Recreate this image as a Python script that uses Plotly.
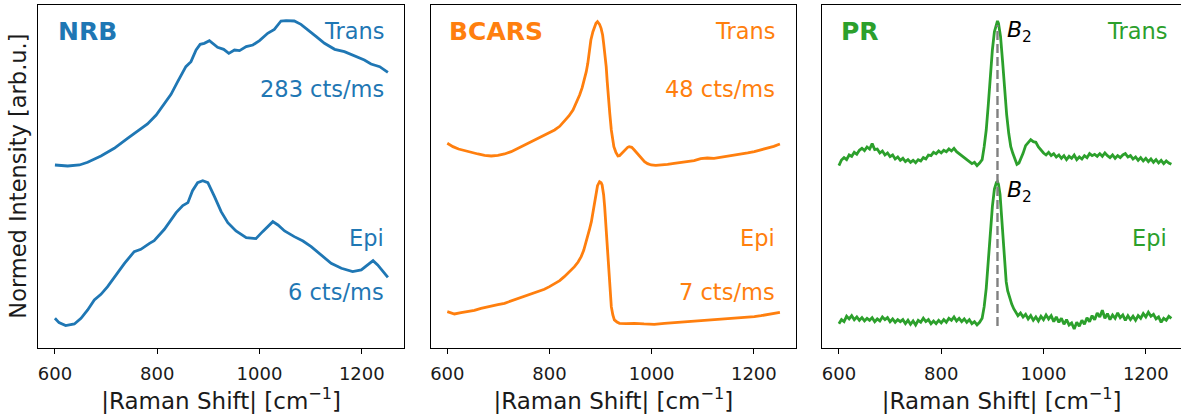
import plotly.graph_objects as go

# ---------------- data ----------------
nrb_trans_x = [600, 625, 648, 664, 690, 716, 742, 768, 781, 798, 814, 827, 840, 856, 866, 876, 884, 892, 902, 909,
               918, 930, 940, 951, 961, 974, 987, 1000, 1016, 1029, 1042, 1052, 1068, 1081, 1094, 1111, 1127, 1147,
               1166, 1186, 1205, 1218, 1235, 1251]
nrb_trans_y = [0.550, 0.547, 0.550, 0.558, 0.577, 0.600, 0.630, 0.657, 0.673, 0.700, 0.735, 0.762, 0.800, 0.845,
               0.860, 0.895, 0.912, 0.915, 0.923, 0.915, 0.903, 0.897, 0.885, 0.895, 0.893, 0.905, 0.910, 0.923,
               0.945, 0.957, 0.982, 0.983, 0.982, 0.972, 0.955, 0.935, 0.915, 0.897, 0.890, 0.877, 0.865, 0.853,
               0.845, 0.828]

nrb_epi_x = [600, 608, 621, 638, 651, 664, 677, 690, 703, 719, 736, 755, 768, 785, 794, 814, 827, 837, 850, 860,
             869, 879, 889, 899, 912, 925, 938, 954, 974, 993, 1006, 1016, 1026, 1036, 1049, 1068, 1085, 1101,
             1121, 1140, 1160, 1182, 1199, 1212, 1222, 1231, 1241, 1251]
nrb_epi_y = [0.090, 0.077, 0.068, 0.073, 0.090, 0.115, 0.145, 0.162, 0.185, 0.220, 0.255, 0.290, 0.297, 0.315,
             0.323, 0.357, 0.385, 0.407, 0.428, 0.437, 0.473, 0.497, 0.503, 0.497, 0.455, 0.410, 0.377, 0.352,
             0.332, 0.329, 0.350, 0.365, 0.380, 0.370, 0.352, 0.335, 0.322, 0.305, 0.280, 0.255, 0.240, 0.230,
             0.235, 0.250, 0.263, 0.250, 0.230, 0.213]

bcars_trans_x = [600, 611, 622, 634, 647, 660, 673, 686, 699, 712, 725, 738, 751, 764, 774, 784, 797, 810, 820,
                 829, 838, 846, 853, 859, 864, 868, 872, 875, 878, 881, 885, 888, 891, 894, 898, 901, 904, 906, 909,
                 911, 913, 915, 918, 921, 924, 926, 930, 934, 937, 940, 945, 950, 953, 956, 961, 966, 971, 976, 981,
                 986, 992, 999, 1008, 1018, 1031, 1044, 1057, 1070, 1083, 1096, 1109, 1122, 1135, 1149, 1162, 1175,
                 1188, 1201, 1214, 1227, 1239, 1251]
bcars_trans_y = [0.615, 0.605, 0.598, 0.593, 0.587, 0.583, 0.579, 0.577, 0.579, 0.583, 0.590, 0.600, 0.609,
                 0.620, 0.627, 0.635, 0.644, 0.655, 0.666, 0.680, 0.697, 0.715, 0.737, 0.760, 0.782, 0.805, 0.830,
                 0.855, 0.890, 0.925, 0.950, 0.965, 0.975, 0.980, 0.972, 0.960, 0.940, 0.915, 0.880, 0.845, 0.800,
                 0.755, 0.705, 0.655, 0.625, 0.605, 0.588, 0.577, 0.578, 0.583, 0.590, 0.597, 0.603, 0.605, 0.603,
                 0.595, 0.586, 0.577, 0.568, 0.560, 0.554, 0.550, 0.549, 0.550, 0.552, 0.555, 0.557, 0.560, 0.563,
                 0.569, 0.571, 0.570, 0.573, 0.575, 0.579, 0.583, 0.586, 0.590, 0.595, 0.600, 0.606, 0.613]

bcars_epi_x = [600, 607, 614, 627, 640, 653, 666, 676, 686, 699, 712, 725, 738, 751, 764, 777, 790, 800, 810, 820,
               829, 839, 849, 856, 862, 867, 871, 875, 878, 882, 885, 888, 891, 894, 898, 901, 903, 906, 908, 910,
               912, 914, 916, 918, 921, 924, 927, 932, 937, 950, 966, 985, 1005, 1025, 1044, 1063, 1083, 1102,
               1122, 1141, 1161, 1181, 1201, 1214, 1227, 1239, 1251]
bcars_epi_y = [0.110, 0.106, 0.103, 0.107, 0.110, 0.114, 0.120, 0.124, 0.127, 0.131, 0.135, 0.142, 0.150, 0.157,
               0.165, 0.171, 0.177, 0.185, 0.193, 0.203, 0.215, 0.229, 0.245, 0.259, 0.275, 0.294, 0.315, 0.333,
               0.355, 0.380, 0.405, 0.435, 0.465, 0.488, 0.500, 0.497, 0.490, 0.460, 0.425, 0.375, 0.325, 0.270,
               0.215, 0.170, 0.125, 0.100, 0.085, 0.079, 0.075, 0.074, 0.075, 0.073, 0.072, 0.075, 0.077, 0.080,
               0.083, 0.084, 0.085, 0.088, 0.090, 0.092, 0.095, 0.098, 0.102, 0.105, 0.108]

pr_trans_x = [600, 605, 610, 615, 620, 625, 630, 635, 640, 645, 650, 655, 660, 665, 670, 675, 680, 685, 690, 695,
              700, 705, 710, 715, 720, 725, 730, 735, 740, 745, 750, 755, 760, 765, 770, 775, 780, 785, 790, 795,
              800, 805, 810, 815, 820, 825, 830, 835, 840, 845, 850, 855, 860, 865, 870, 875, 880, 884, 888, 892,
              896, 900, 904, 908, 910, 912, 916, 920, 924, 928, 932, 936, 940, 944, 948, 952, 956, 960, 965, 970,
              975, 980, 985, 990, 995, 1000, 1005, 1010, 1015, 1020, 1025, 1030, 1035, 1040, 1045, 1050, 1055,
              1060, 1065, 1070, 1075, 1080, 1085, 1090, 1095, 1100, 1105, 1110, 1115, 1120, 1125, 1130, 1135,
              1140, 1145, 1150, 1155, 1160, 1165, 1170, 1175, 1180, 1185, 1190, 1195, 1200, 1205, 1210, 1215,
              1220, 1225, 1230, 1235, 1240, 1245, 1250]
pr_trans_y = [0.548, 0.565, 0.572, 0.566, 0.580, 0.576, 0.588, 0.582, 0.594, 0.600, 0.593, 0.604, 0.598, 0.614,
              0.596, 0.598, 0.586, 0.592, 0.580, 0.586, 0.575, 0.580, 0.568, 0.574, 0.564, 0.570, 0.560, 0.566,
              0.558, 0.564, 0.557, 0.566, 0.562, 0.572, 0.568, 0.580, 0.578, 0.588, 0.584, 0.592, 0.586, 0.594,
              0.590, 0.598, 0.592, 0.600, 0.590, 0.584, 0.578, 0.572, 0.566, 0.560, 0.554, 0.558, 0.548, 0.556,
              0.566, 0.605, 0.655, 0.730, 0.820, 0.895, 0.950, 0.978, 0.982, 0.975, 0.935, 0.860, 0.775, 0.700,
              0.645, 0.605, 0.585, 0.565, 0.552, 0.556, 0.570, 0.585, 0.608, 0.616, 0.626, 0.620, 0.618, 0.604,
              0.594, 0.586, 0.580, 0.588, 0.578, 0.584, 0.574, 0.580, 0.570, 0.578, 0.566, 0.576, 0.570, 0.580,
              0.566, 0.574, 0.568, 0.578, 0.572, 0.584, 0.578, 0.582, 0.576, 0.584, 0.576, 0.586, 0.578, 0.572,
              0.580, 0.570, 0.578, 0.572, 0.580, 0.584, 0.574, 0.578, 0.568, 0.574, 0.564, 0.572, 0.562, 0.570,
              0.560, 0.568, 0.558, 0.566, 0.556, 0.564, 0.554, 0.562, 0.556, 0.552]

pr_epi_x = [600, 605, 610, 615, 620, 625, 630, 635, 640, 645, 650, 655, 660, 665, 670, 675, 680, 685, 690, 695,
            700, 705, 710, 715, 720, 725, 730, 735, 740, 745, 750, 755, 760, 765, 770, 775, 780, 785, 790, 795,
            800, 805, 810, 815, 820, 825, 830, 835, 840, 845, 850, 855, 860, 865, 870, 875, 880, 884, 888, 892,
            896, 900, 904, 908, 910, 912, 915, 918, 921, 924, 927, 930, 934, 938, 942, 946, 950, 955, 960, 965,
            970, 975, 980, 985, 990, 995, 1000, 1005, 1010, 1015, 1020, 1025, 1030, 1035, 1040, 1045, 1050, 1055,
            1060, 1065, 1070, 1075, 1080, 1085, 1090, 1095, 1100, 1105, 1110, 1115, 1120, 1125, 1130, 1135, 1140,
            1145, 1150, 1155, 1160, 1165, 1170, 1175, 1180, 1185, 1190, 1195, 1200, 1205, 1210, 1215, 1220, 1225,
            1230, 1235, 1240, 1245, 1250]
pr_epi_y = [0.074, 0.086, 0.080, 0.096, 0.088, 0.098, 0.086, 0.094, 0.084, 0.092, 0.082, 0.090, 0.084, 0.092,
            0.080, 0.088, 0.082, 0.094, 0.086, 0.092, 0.080, 0.088, 0.078, 0.086, 0.080, 0.086, 0.074, 0.084,
            0.072, 0.082, 0.070, 0.084, 0.078, 0.090, 0.080, 0.086, 0.074, 0.082, 0.074, 0.084, 0.076, 0.086,
            0.078, 0.090, 0.084, 0.094, 0.082, 0.090, 0.080, 0.088, 0.078, 0.086, 0.074, 0.080, 0.070, 0.078,
            0.090, 0.125, 0.180, 0.265, 0.350, 0.425, 0.478, 0.498, 0.500, 0.492, 0.462, 0.395, 0.315, 0.245,
            0.200, 0.172, 0.148, 0.132, 0.118, 0.106, 0.098, 0.106, 0.094, 0.102, 0.088, 0.098, 0.084, 0.094,
            0.082, 0.096, 0.086, 0.100, 0.088, 0.098, 0.080, 0.094, 0.078, 0.090, 0.072, 0.086, 0.070, 0.076,
            0.058, 0.078, 0.066, 0.084, 0.072, 0.092, 0.080, 0.098, 0.086, 0.106, 0.094, 0.114, 0.090, 0.104,
            0.086, 0.100, 0.090, 0.106, 0.092, 0.100, 0.084, 0.098, 0.086, 0.096, 0.084, 0.098, 0.090, 0.104,
            0.094, 0.108, 0.096, 0.102, 0.088, 0.094, 0.078, 0.090, 0.084, 0.096, 0.090]

b2_position = 910
b2_line_y = [0.067, 0.970]

panel_titles = ["NRB", "BCARS", "PR"]
rate_trans = ["283 cts/ms", "48 cts/ms", None]
rate_epi = ["6 cts/ms", "7 cts/ms", None]
tick_vals = [600, 800, 1000, 1200]

colors = ["#1f77b4", "#ff7f0e", "#2ca02c"]

# ---------------- layout geometry (pixels) ----------------
W, H = 1181, 418
def px(x):
    return x / W
def py(y):
    return (H - y) / H

x_domains = [[px(38.3), px(404.0)], [px(430.7), px(796.0)], [px(822.3), 1.0]]
y_domain = [py(348.3), py(5.0)]
x_ranges = [[567.5, 1282.5], [567.5, 1282.5], [567.5, 1268.8]]

fig = go.Figure()

series = [
    (nrb_trans_x, nrb_trans_y, nrb_epi_x, nrb_epi_y),
    (bcars_trans_x, bcars_trans_y, bcars_epi_x, bcars_epi_y),
    (pr_trans_x, pr_trans_y, pr_epi_x, pr_epi_y),
]

for i, (tx, ty, ex, ey) in enumerate(series):
    xa = "x" if i == 0 else f"x{i+1}"
    ya = "y" if i == 0 else f"y{i+1}"
    for xs, ys in ((tx, ty), (ex, ey)):
        fig.add_trace(go.Scatter(x=xs, y=ys, mode="lines", xaxis=xa, yaxis=ya,
                                 line=dict(color=colors[i], width=2.8), showlegend=False,
                                 hoverinfo="skip"))

# dashed B2 marker
fig.add_trace(go.Scatter(x=[b2_position, b2_position], y=b2_line_y, mode="lines", xaxis="x3", yaxis="y3",
                         line=dict(color="#808080", width=2.4, dash="9px,4px"), showlegend=False,
                         hoverinfo="skip"))

font_family = "DejaVu Sans"
axis_common = dict(showgrid=False, zeroline=False)

layout = dict(width=W, height=H, margin=dict(l=0, r=0, t=0, b=0),
              paper_bgcolor="white", plot_bgcolor="white",
              font=dict(family=font_family, color="black", size=18),
              showlegend=False)

for i in range(3):
    sfx = "" if i == 0 else str(i + 1)
    layout["xaxis" + sfx] = dict(
        domain=x_domains[i], range=x_ranges[i], anchor="y" + sfx,
        showline=True, mirror=True, linecolor="black", linewidth=1.2,
        ticks="outside", ticklen=5, tickwidth=1.1, tickcolor="black",
        tickvals=tick_vals, ticktext=[str(v) for v in tick_vals],
        ticklabelstandoff=4,
        tickfont=dict(size=18, family=font_family, color="#1a1a1a"),
        title=dict(text="|Raman Shift| [cm<sup>−1</sup>]", font=dict(size=23, family=font_family, color="#1a1a1a"),
                   standoff=6),
        **axis_common)
    layout["yaxis" + sfx] = dict(
        domain=y_domain, range=[0, 1.03], anchor="x" + sfx,
        showline=True, mirror=(i < 2), linecolor="black", linewidth=1.2,
        showticklabels=False, ticks="", **axis_common)

fig.update_layout(**layout)

# text annotations
title_left = [56.0, 447.3, 839.0]
text_right = [386.0, 777.3, 1169.0]
ann = []
for i in range(3):
    ann.append(dict(text=f"<b>{panel_titles[i]}</b>", x=px(title_left[i]), y=py(31.7), xref="paper", yref="paper",
                    xanchor="left", yanchor="middle", showarrow=False,
                    font=dict(size=25, color=colors[i], family=font_family)))
    ann.append(dict(text="Trans", x=px(text_right[i]), y=py(31.0), xref="paper", yref="paper",
                    xanchor="right", yanchor="middle", showarrow=False,
                    font=dict(size=22.5, color=colors[i], family=font_family)))
    ann.append(dict(text="Epi", x=px(text_right[i]), y=py(238.0), xref="paper", yref="paper",
                    xanchor="right", yanchor="middle", showarrow=False,
                    font=dict(size=22.5, color=colors[i], family=font_family)))
    if rate_trans[i]:
        ann.append(dict(text=rate_trans[i], x=px(text_right[i]), y=py(89.0), xref="paper", yref="paper",
                        xanchor="right", yanchor="middle", showarrow=False,
                        font=dict(size=22.5, color=colors[i], family=font_family)))
    if rate_epi[i]:
        ann.append(dict(text=rate_epi[i], x=px(text_right[i]), y=py(292.0), xref="paper", yref="paper",
                        xanchor="right", yanchor="middle", showarrow=False,
                        font=dict(size=22.5, color=colors[i], family=font_family)))

for yy in (31.7, 191.7):
    ann.append(dict(text="<i>B</i><sub>2</sub>", x=px(1005.0), y=py(yy), xref="paper", yref="paper",
                    xanchor="left", yanchor="middle", showarrow=False,
                    font=dict(size=22, color="black", family=font_family)))

ann.append(dict(text="Normed Intensity [arb.u.]", x=px(18.0), y=py(176.7), xref="paper", yref="paper",
                xanchor="center", yanchor="middle", textangle=-90, showarrow=False,
                font=dict(size=22.5, color="#1a1a1a", family=font_family)))

fig.update_layout(annotations=ann)

fig.write_html("out.html")
